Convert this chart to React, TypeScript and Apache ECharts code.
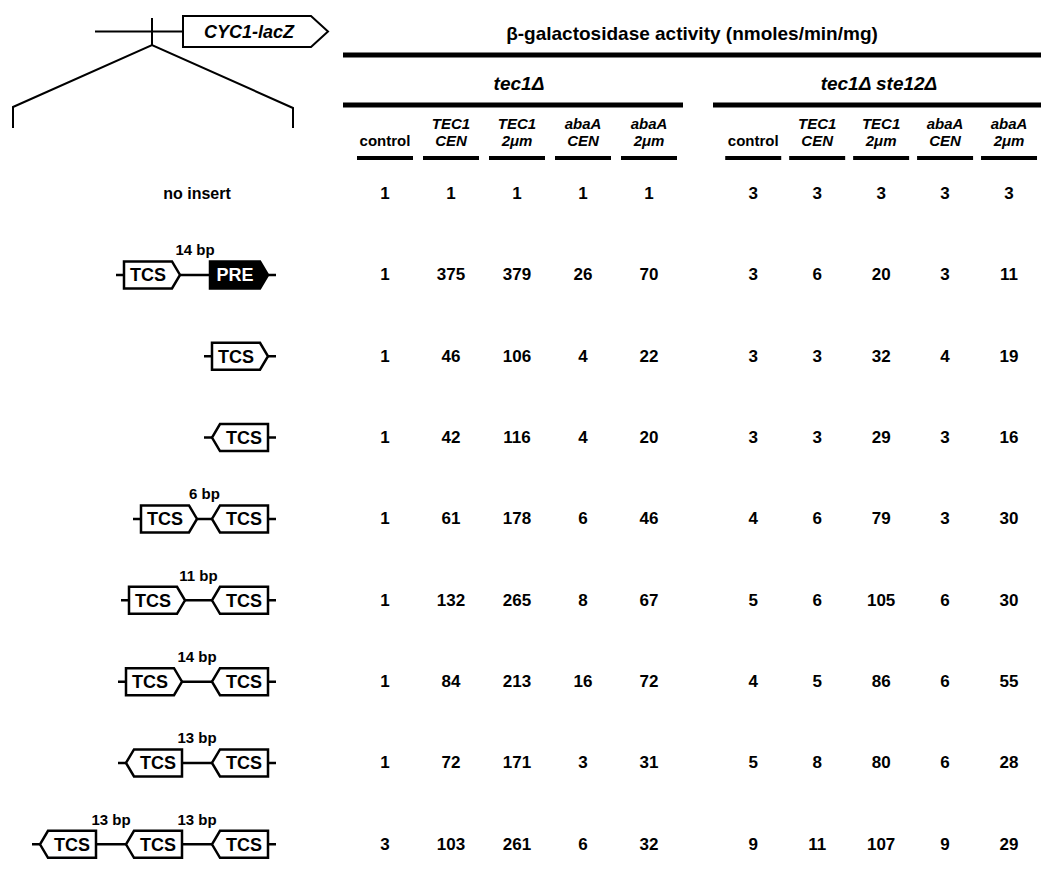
import { useEffect, useRef } from "react";
import * as echarts from "echarts";

// ---------- data ----------
const title = "β-galactosidase activity (nmoles/min/mg)";
const strains = ["tec1Δ", "tec1Δ ste12Δ"];
const columnHeaders = ["control", "TEC1\nCEN", "TEC1\n2μm", "abaA\nCEN", "abaA\n2μm"];
const rowNames = [
  "no insert",
  "TCS 14 bp PRE",
  "TCS forward",
  "TCS reverse",
  "TCS 6 bp TCS",
  "TCS 11 bp TCS",
  "TCS 14 bp TCS",
  "TCS 13 bp TCS",
  "TCS 13 bp TCS 13 bp TCS",
];
// diagram of each insert: elements (kind + orientation) separated by spacer lengths in bp
const rowDiagrams: any[] = [
  null,
  [["TCS", "R"], 14, ["PRE", "R"]],
  [["TCS", "R"]],
  [["TCS", "L"]],
  [["TCS", "R"], 6, ["TCS", "L"]],
  [["TCS", "R"], 11, ["TCS", "L"]],
  [["TCS", "R"], 14, ["TCS", "L"]],
  [["TCS", "L"], 13, ["TCS", "L"]],
  [["TCS", "L"], 13, ["TCS", "L"], 13, ["TCS", "L"]],
];

// tec1Δ
const tec1_control = [1, 1, 1, 1, 1, 1, 1, 1, 3];
const tec1_TEC1_CEN = [1, 375, 46, 42, 61, 132, 84, 72, 103];
const tec1_TEC1_2um = [1, 379, 106, 116, 178, 265, 213, 171, 261];
const tec1_abaA_CEN = [1, 26, 4, 4, 6, 8, 16, 3, 6];
const tec1_abaA_2um = [1, 70, 22, 20, 46, 67, 72, 31, 32];
// tec1Δ ste12Δ
const ste12_control = [3, 3, 3, 3, 4, 5, 4, 5, 9];
const ste12_TEC1_CEN = [3, 6, 3, 3, 6, 6, 5, 8, 11];
const ste12_TEC1_2um = [3, 20, 32, 29, 79, 105, 86, 80, 107];
const ste12_abaA_CEN = [3, 3, 4, 3, 3, 6, 6, 6, 9];
const ste12_abaA_2um = [3, 11, 19, 16, 30, 30, 55, 28, 29];

const groups = [
  [tec1_control, tec1_TEC1_CEN, tec1_TEC1_2um, tec1_abaA_CEN, tec1_abaA_2um],
  [ste12_control, ste12_TEC1_CEN, ste12_TEC1_2um, ste12_abaA_CEN, ste12_abaA_2um],
];

// ---------- layout ----------
const FONT = "'Liberation Sans', Arial, Helvetica, sans-serif";
const GRID_TOP = 152.9;
const GRID_H = 757.8;
const GRIDS = [
  { left: 352, width: 330 },
  { left: 721.25, width: 337.5 },
];
const GAP_PX: Record<number, number> = { 6: 15, 11: 27, 13: 30, 14: 30 };
const EL_W = 56;
const EL_H = 27;
const TIP = 8;
const RIGHT_EDGE = 268;

export default function App() {
  const ref = useRef<HTMLDivElement>(null);
  useEffect(() => {
    document.body.style.margin = "0";
    const chart = echarts.init(ref.current!, null, { renderer: "svg" });

    const headerFormatter = (v: string) =>
      v.includes("\n")
        ? v
            .split("\n")
            .map((s) => `{it|${s}}`)
            .join("\n")
        : `{rm|${v}}`;

    chart.setOption({
      animation: false,
      backgroundColor: "#fff",
      grid: GRIDS.map((g) => ({ left: g.left, width: g.width, top: GRID_TOP, height: GRID_H })),
      xAxis: GRIDS.map((_, gi) => ({
        type: "category",
        gridIndex: gi,
        data: columnHeaders,
        position: "top",
        axisLine: { show: false },
        axisTick: { show: false },
        splitLine: { show: false },
        axisLabel: {
          interval: 0,
          margin: 3.5,
          formatter: headerFormatter,
          rich: {
            it: { fontStyle: "italic", fontWeight: "bold", fontSize: 15, lineHeight: 17, fontFamily: FONT, color: "#000" },
            rm: { fontWeight: "bold", fontSize: 15, lineHeight: 17, fontFamily: FONT, color: "#000" },
          },
        },
      })),
      yAxis: GRIDS.map((_, gi) => ({
        type: "category",
        gridIndex: gi,
        data: rowNames,
        inverse: true,
        show: false,
      })),
      series: groups.map((cols, gi) => ({
        type: "scatter",
        name: strains[gi],
        xAxisIndex: gi,
        yAxisIndex: gi,
        symbolSize: 1,
        itemStyle: { color: "rgba(0,0,0,0)", opacity: 1 },
        emphasis: { disabled: true },
        label: {
          show: true,
          position: "inside",
          formatter: (p: any) => String(p.value[2]),
          fontSize: 17,
          fontWeight: "bold",
          fontFamily: FONT,
          color: "#000",
          opacity: 1,
          textBorderWidth: 0,
        },
        data: cols.flatMap((arr, c) => arr.map((v, r) => [c, r, v])),
      })),
    });

    const g: any[] = [];
    const txt = (x: number, y: number, text: string, o: any = {}) =>
      g.push({
        type: "text",
        x,
        y,
        z: 5,
        style: {
          text,
          fontFamily: FONT,
          fontWeight: "bold",
          fontSize: 15,
          fill: "#000",
          align: "center",
          verticalAlign: "middle",
          ...o,
        },
      });
    const line = (x1: number, y1: number, x2: number, y2: number, w = 2, z = 2) =>
      g.push({ type: "line", z, shape: { x1, y1, x2, y2 }, style: { stroke: "#000", lineWidth: w } });

    // header titles and rules
    txt(692, 33, title, { fontSize: 19 });
    line(343, 55, 1041, 55, 5);
    const gx = [519, 879];
    strains.forEach((s, i) => txt(gx[i], 83, s, { fontSize: 19, fontStyle: "italic" }));
    line(343, 105, 683, 105, 5);
    line(713, 105, 1041, 105, 5);
    GRIDS.forEach((_, gi) => {
      columnHeaders.forEach((_h, c) => {
        const x = chart.convertToPixel({ xAxisIndex: gi }, c) as number;
        line(x - 28, 158, x + 28, 158, 4);
      });
    });

    // reporter construct diagram
    line(95, 31.5, 183, 31.5, 2);
    line(152, 18, 152, 45, 2);
    g.push({
      type: "polyline",
      z: 2,
      shape: { points: [[13, 128], [13, 107], [152, 45], [293, 108], [293, 128]] },
      style: { stroke: "#000", lineWidth: 2, fill: "none" },
    });
    g.push({
      type: "polygon",
      z: 3,
      shape: { points: [[183, 16], [311, 16], [328, 31.5], [311, 47], [183, 47]] },
      style: { stroke: "#000", lineWidth: 2, fill: "#fff" },
    });
    txt(249, 31.5, "CYC1-lacZ", { fontSize: 18, fontStyle: "italic" });

    // insert diagrams
    rowDiagrams.forEach((diag, r) => {
      const cy = chart.convertToPixel({ yAxisIndex: 0 }, r) as number;
      if (!diag) {
        txt(197, cy, rowNames[r], { fontSize: 16 });
        return;
      }
      let cursor = RIGHT_EDGE;
      const items: any[] = [];
      for (let i = diag.length - 1; i >= 0; i--) {
        const it = diag[i];
        if (typeof it === "number") {
          const w = GAP_PX[it];
          txt(cursor - w / 2, cy - 25, `${it} bp`, { fontSize: 15 });
          cursor -= w;
        } else {
          const w = it[0] === "PRE" ? EL_W + 2 : EL_W;
          items.push({ kind: it[0], dir: it[1], x0: cursor - w, x1: cursor });
          cursor -= w;
        }
      }
      line(cursor - 8, cy, RIGHT_EDGE + 8, cy, 2.5, 2);
      items.forEach((el) => {
        const t = cy - EL_H / 2;
        const b = cy + EL_H / 2;
        const pts =
          el.dir === "R"
            ? [[el.x0, t], [el.x1 - TIP, t], [el.x1, cy], [el.x1 - TIP, b], [el.x0, b]]
            : [[el.x0, cy], [el.x0 + TIP, t], [el.x1, t], [el.x1, b], [el.x0 + TIP, b]];
        const dark = el.kind === "PRE";
        g.push({
          type: "polygon",
          z: 3,
          shape: { points: pts },
          style: { stroke: "#000", lineWidth: 2.5, fill: dark ? "#000" : "#fff", lineJoin: "miter" },
        });
        const cx = el.dir === "R" ? (el.x0 + el.x1 - TIP) / 2 : (el.x0 + TIP + el.x1) / 2;
        txt(cx, cy + 0.5, el.kind, { fontSize: 18, fill: dark ? "#fff" : "#000" });
      });
    });

    chart.setOption({ graphic: { elements: g } });
    return () => chart.dispose();
  }, []);
  return <div ref={ref} style={{ width: 1041, height: 885 }} />;
}
